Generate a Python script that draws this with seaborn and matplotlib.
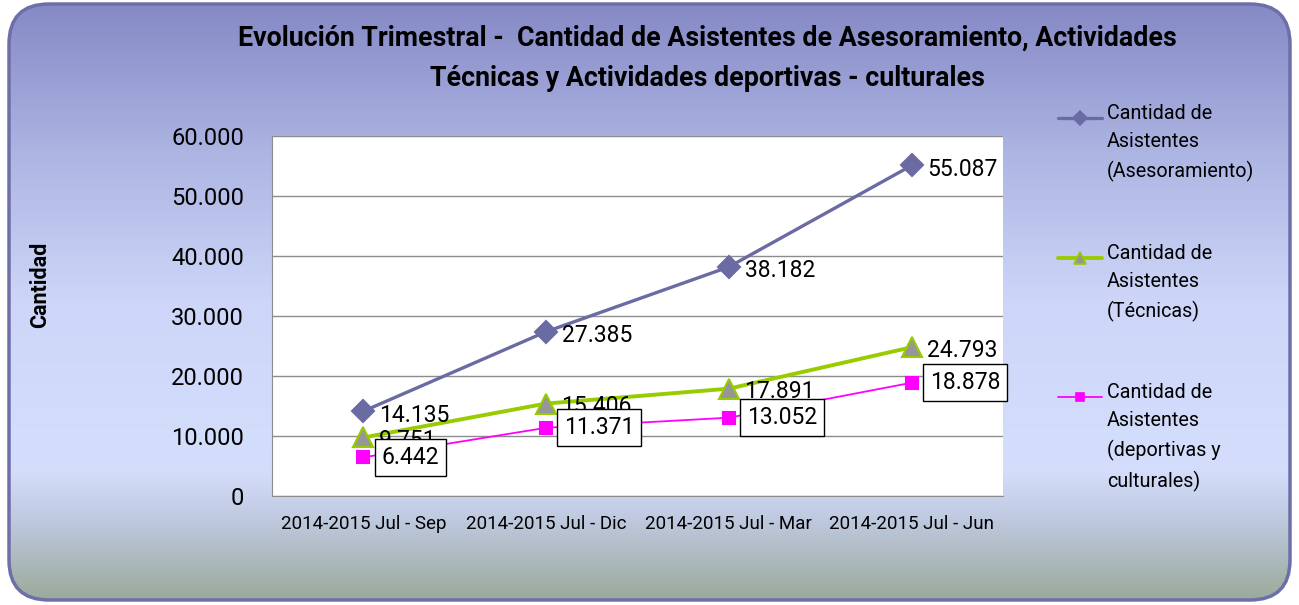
import numpy as np
import pandas as pd
import seaborn as sns
import matplotlib.pyplot as plt
from matplotlib.patches import FancyBboxPatch
from matplotlib.lines import Line2D

# datos del gráfico
periodos = ["2014-2015 Jul - Sep", "2014-2015 Jul - Dic", "2014-2015 Jul - Mar", "2014-2015 Jul - Jun"]
asesoramiento = [14135, 27385, 38182, 55087]
tecnicas = [9751, 15406, 17891, 24793]
deportivas = [6442, 11371, 13052, 18878]
series_nombres = ["Cantidad de\nAsistentes\n(Asesoramiento)",
                  "Cantidad de\nAsistentes\n(Técnicas)",
                  "Cantidad de\nAsistentes\n(deportivas y\nculturales)"]
y_ticks = [0, 10000, 20000, 30000, 40000, 50000, 60000]
titulo = ["Evolución Trimestral -  Cantidad de Asistentes de Asesoramiento, Actividades",
          "Técnicas y Actividades deportivas - culturales"]

sns.set_style("white")
plt.rcParams['font.family'] = ['Roboto', 'DejaVu Sans']
plt.rcParams['text.color'] = 'black'
plt.rcParams['xtick.color'] = 'black'
plt.rcParams['ytick.color'] = 'black'

def fmt(v):
    return f"{v:,}".replace(",", ".")

W, H = 1299, 605
fig = plt.figure(figsize=(W / 100, H / 100), dpi=100)
fig.patch.set_facecolor("white")
renderer = fig.canvas.get_renderer()

# fondo degradado con borde redondeado
bg = fig.add_axes([0, 0, 1, 1], zorder=-10)
bg.set_xlim(0, W)
bg.set_ylim(H, 0)
bg.axis("off")
stops_y = [0, 150, 300, 470, 520, 605]
stops_c = np.array([(132, 136, 196), (172, 180, 226), (205, 214, 248),
                    (212, 222, 252), (190, 200, 222), (152, 168, 150)]) / 255
yy = np.arange(H)
grad = np.stack([np.interp(yy, stops_y, stops_c[:, k]) for k in range(3)], axis=-1)
grad = np.repeat(grad[:, None, :], 2, axis=1)
im = bg.imshow(grad, extent=[0, W, H, 0], aspect="auto")
frame = FancyBboxPatch((9, 4), W - 18, H - 9, boxstyle="round,pad=0,rounding_size=40",
                       fc="none", ec="#6E6EA8", lw=2.5)
bg.add_patch(frame)
im.set_clip_path(frame)

ax = fig.add_axes([272 / W, 1 - 496 / H, (1003 - 272) / W, (496 - 136) / H])
ax.set_facecolor("white")

x = np.arange(len(periodos))
estilos = [
    dict(data=asesoramiento, color="#6B6BA3", marker="D", ms=11, mfc="#6B6BA3", mec="#6B6BA3", lw=2.4),
    dict(data=tecnicas, color="#99CC00", marker="^", ms=14, mfc="#969696", mec="#99CC00", lw=2.8),
    dict(data=deportivas, color="#FF00FF", marker="s", ms=8, mfc="#FF00FF", mec="#FF00FF", lw=1.3),
]
for i, st in enumerate(estilos):
    df = pd.DataFrame({"x": x, "valor": st["data"]})
    sns.lineplot(data=df, x="x", y="valor", ax=ax, color=st["color"], lw=st["lw"],
                 marker=st["marker"], markersize=st["ms"], markerfacecolor=st["mfc"],
                 markeredgecolor=st["mec"], markeredgewidth=1.5, sort=False, zorder=3 + i)

# etiquetas de datos
fs_dat = 16.5
for xi, v in zip(x, asesoramiento):
    ax.annotate(fmt(v), xy=(xi, v), xytext=(16, -4), textcoords="offset pixels",
                ha="left", va="center", fontsize=fs_dat, zorder=6)
for xi, v in zip(x, tecnicas):
    ax.annotate(fmt(v), xy=(xi, v), xytext=(15, -3), textcoords="offset pixels",
                ha="left", va="center", fontsize=fs_dat, zorder=6, annotation_clip=False)
for xi, v in zip(x, deportivas):
    ax.annotate(fmt(v), xy=(xi, v), xytext=(18, 0), textcoords="offset pixels",
                ha="left", va="center", fontsize=fs_dat, zorder=8, annotation_clip=False,
                bbox=dict(boxstyle="square,pad=0.3", fc="white", ec="black", lw=1))

ax.set_xlim(-0.5, len(periodos) - 0.5)
ax.set_ylim(0, 60000)
ax.set_yticks(y_ticks)
ax.set_yticklabels([fmt(t) for t in y_ticks], fontsize=17)
ax.set_xticks(x)
ax.set_xticklabels(periodos, fontsize=13.5)
ax.tick_params(axis="y", pad=20, length=0)
ax.tick_params(axis="x", pad=14, length=0)
ax.grid(axis="y", color="#8C8C8C", lw=1)
ax.set_axisbelow(True)
for s in ["left", "bottom"]:
    ax.spines[s].set_color("#8C8C8C")
for s in ["top", "right"]:
    ax.spines[s].set_visible(False)
ax.set_xlabel("")
ax.set_ylabel("")

fig.text(40 / W, 1 - 285 / H, "Cantidad", rotation=90, fontsize=15.5, fontweight="bold",
         ha="center", va="center")

# título en dos líneas, tamaño ajustado al ancho del original
t1 = fig.text(707 / W, 1 - 38 / H, titulo[0], fontsize=20, fontweight="bold",
              ha="center", va="center")
ancho = t1.get_window_extent(renderer).width
fs_tit = 20 * 935 / ancho
t1.set_fontsize(fs_tit)
fig.text(707 / W, 1 - 79 / H, titulo[1], fontsize=fs_tit, fontweight="bold",
         ha="center", va="center")

# leyenda a la derecha
ley_y = [118, 258, 397]
for st, nombre, yl in zip(estilos, series_nombres, ley_y):
    yf = 1 - yl / H
    fig.add_artist(Line2D([1058 / W, 1080 / W, 1102 / W], [yf, yf, yf], color=st["color"],
                          lw=st["lw"], marker=st["marker"], markevery=[1],
                          markersize=st["ms"] * 0.65, markerfacecolor=st["mfc"],
                          markeredgecolor=st["mec"], markeredgewidth=1.2))
    fig.text(1107 / W, yf + 14 / H, nombre, fontsize=14.2, ha="left", va="top", linespacing=1.6)

fig.savefig("out.png", dpi=100, facecolor="white")
